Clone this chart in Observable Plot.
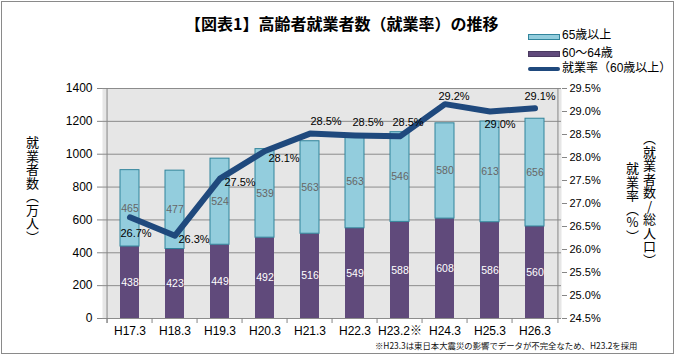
<!DOCTYPE html>
<html lang="ja">
<head>
<meta charset="utf-8">
<script src="https://cdn.jsdelivr.net/npm/d3@7"></script>
<script src="https://cdn.jsdelivr.net/npm/@observablehq/plot@0.6"></script>
<style>
  body { margin: 0; background: #fff; }
  #wrap { position: relative; width: 675px; height: 355px; overflow: hidden; background: #fff;
          font-family: "Liberation Sans", "Noto Sans CJK JP", sans-serif; }
  #border { position: absolute; left: 1px; top: 1px; width: 671px; height: 351px; border: 1px solid #8a8a8a; z-index: 5; pointer-events: none; }
  #header { position: absolute; left: 0; top: 0; width: 675px; height: 78px; }
  .title { position: absolute; left: 185px; top: 13px; font: bold 16px/20px "Noto Sans CJK JP", sans-serif; white-space: nowrap; color: #000; }
  .lg-text { position: absolute; left: 562px; font-size: 12px; line-height: 14px; white-space: nowrap; color: #000;
             font-family: "Liberation Sans", "Noto Sans CJK JP", sans-serif; }
  .sw { position: absolute; left: 528px; width: 32px; box-sizing: border-box; }
  #chart { position: absolute; left: 0; top: 78px; }
  .vt { position: absolute; writing-mode: vertical-rl; font-family: "Noto Sans CJK JP", sans-serif; font-size: 13px; line-height: 13px; letter-spacing: 0.5px; white-space: nowrap; color: #000; z-index: 3; }
  .up { text-orientation: upright; }
  .note { position: absolute; left: 375px; top: 340px; font-family: "Noto Sans CJK JP", sans-serif; font-size: 8.4px; line-height: 10px; white-space: nowrap; color: #111; z-index: 3; }
</style>
</head>
<body>
<div id="wrap">
  <div id="border"></div>
  <div id="header">
    <div class="title">【図表1】高齢者就業者数（就業率）の推移</div>
    <div class="sw" style="top:34px;height:6px;background:#93CDDD;border:1px solid #31859C;"></div>
    <div class="lg-text" style="top:28px;">65歳以上</div>
    <div class="sw" style="top:51px;height:6px;background:#604A7B;border:1px solid #4A3A60;"></div>
    <div class="lg-text" style="top:46px;">60～64歳</div>
    <div class="sw" style="top:67px;height:4px;background:#1F497D;border-radius:2px;"></div>
    <div class="lg-text" style="top:61px;">就業率（60歳以上）</div>
  </div>
  <div id="chart"></div>
  <div class="vt" style="left:26px;top:136px;">就業者数（万人）</div>
  <div class="vt" style="left:643px;top:132px;">（就業者数<span class="up">/</span>総人口）</div>
  <div class="vt" style="left:626px;top:162px;">就業率（<span class="up">%</span>）</div>
  <div class="note">※H23.3は東日本大震災の影響でデータが不完全なため、H23.2を採用</div>
</div>
<script>
// ---- data ----
const categories = ["H17.3", "H18.3", "H19.3", "H20.3", "H21.3", "H22.3", "H23.2※", "H24.3", "H25.3", "H26.3"];
const age60to64 = [438, 423, 449, 492, 516, 549, 588, 608, 586, 560];
const age65plus = [465, 477, 524, 539, 563, 563, 546, 580, 613, 656];
const employmentRate = [26.7, 26.3, 27.54, 28.14, 28.52, 28.48, 28.46, 29.16, 29.0, 29.07];
const leftTicks = [0, 200, 400, 600, 800, 1000, 1200, 1400];
const rightTicks = [24.5, 25.0, 25.5, 26.0, 26.5, 27.0, 27.5, 28.0, 28.5, 29.0, 29.5];

// ---- secondary axis mapping (percent -> left-axis units) ----
const rMin = rightTicks[0], rMax = rightTicks[rightTicks.length - 1];
const yMax = leftTicks[leftTicks.length - 1];
const toY = p => (p - rMin) / (rMax - rMin) * yMax;
const fromY = v => v / yMax * (rMax - rMin) + rMin;

const rows = categories.map((c, i) => ({
  cat: c, a: age60to64[i], b: age65plus[i], rate: employmentRate[i]
}));

// layout
const W = 675, H = 277, mL = 102, mR = 114, mT = 10, mB = 37;
const step = (W - mL - mR) / categories.length;
const padInner = 0.585;

// label placement for the rate labels (pixel offsets)
const rateLabelOffset = [[6, 16], [19, 4], [20, 4], [19, 7], [16, -12], [13, -13], [8, -14], [9, -8], [10, 13], [5, -12]];

const gridColor = "#8C8C8C";
const axisColor = "#868686";

const rateLabels = rows.map((r, i) => Plot.text([r], {
  x: "cat", y: d => toY(d.rate), text: d => d.rate.toFixed(1) + "%",
  dx: rateLabelOffset[i][0], dy: rateLabelOffset[i][1],
  fill: "#000", fontSize: 11
}));

const chart = Plot.plot({
  width: W, height: H,
  marginLeft: mL, marginRight: mR, marginTop: mT, marginBottom: mB,
  style: { fontFamily: "'Liberation Sans', Arial, 'Noto Sans CJK JP', sans-serif", fontSize: "12px", background: "transparent", overflow: "visible" },
  x: { type: "band", domain: categories, paddingInner: padInner, paddingOuter: padInner / 2, align: 0.5, axis: null },
  y: { domain: [0, yMax], axis: null },
  marks: [
    Plot.frame({ fill: "#E6E6E6", stroke: null }),
    Plot.ruleY(leftTicks, { stroke: gridColor, strokeWidth: 1 }),
    // category boundary ticks and left/right axis lines
    Plot.ruleX(categories, { x: d => d, y1: 0, y2: 0, dx: -step / 2, insetBottom: -5, stroke: axisColor }),
    Plot.ruleX([categories[0]], { x: d => d, y1: yMax, y2: 0, dx: -step / 2, insetBottom: -5, stroke: axisColor }),
    Plot.ruleX([categories[categories.length - 1]], { x: d => d, y1: yMax, y2: 0, dx: step / 2, insetBottom: -5, stroke: axisColor }),
    // bars
    Plot.barY(rows, { x: "cat", y1: 0, y2: "a", fill: "#604A7B" }),
    Plot.barY(rows, { x: "cat", y1: "a", y2: d => d.a + d.b, fill: "#93CDDD", stroke: "#31849B", strokeWidth: 1 }),
    Plot.text(rows, { x: "cat", y: d => d.a / 2, text: d => String(d.a), fill: "#fff", fontSize: 10.5 }),
    Plot.text(rows, { x: "cat", y: d => d.a + d.b / 2, text: d => String(d.b), fill: "#666", fontSize: 10.5 }),
    // line
    Plot.line(rows, { x: "cat", y: d => toY(d.rate), stroke: "#1F497D", strokeWidth: 6, strokeLinejoin: "round", strokeLinecap: "round" }),
    ...rateLabels,
    // axes
    Plot.axisY(leftTicks, { anchor: "left", tickSize: 5, tickPadding: 5, stroke: axisColor, fill: "#000", fontSize: 12, tickFormat: d => String(d), label: null }),
    Plot.axisY(rightTicks.map(toY), { anchor: "right", tickSize: 5, tickPadding: 3, stroke: axisColor, fill: "#000", fontSize: 11, tickFormat: v => fromY(v).toFixed(1) + "%", label: null }),
    Plot.axisX(categories, { anchor: "bottom", tickSize: 0, tickPadding: 8, fill: "#000", fontSize: 12, label: null })
  ]
});
document.getElementById("chart").appendChild(chart);
</script>
</body>
</html>
